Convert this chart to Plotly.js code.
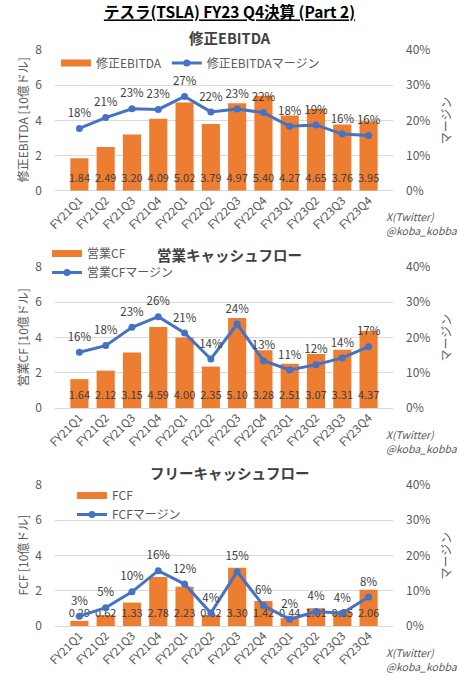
<!DOCTYPE html>
<html><head><meta charset="utf-8">
<script src="https://cdn.plot.ly/plotly-3.0.1.min.js"></script>
<style>html,body{margin:0;padding:0;background:#fff}#c{width:459px;height:680px}</style>
</head><body><div id="c"></div>
<script>
const cats = ['FY21Q1','FY21Q2','FY21Q3','FY21Q4','FY22Q1','FY22Q2','FY22Q3','FY22Q4','FY23Q1','FY23Q2','FY23Q3','FY23Q4'];
const ebitda = [1.84,2.49,3.20,4.09,5.02,3.79,4.97,5.40,4.27,4.65,3.76,3.95];
const ebitdaMargin = [17.7,20.8,23.3,23.1,26.8,22.4,23.2,22.2,18.3,18.7,16.1,15.7];
const ocf = [1.64,2.12,3.15,4.59,4.00,2.35,5.10,3.28,2.51,3.07,3.31,4.37];
const ocfMargin = [15.8,17.7,22.9,25.9,21.3,13.9,23.8,13.4,10.8,12.3,14.2,17.4];
const fcf = [0.29,0.62,1.33,2.78,2.23,0.62,3.30,1.42,0.44,1.01,0.85,2.06];
const fcfMargin = [2.8,5.2,9.7,15.7,11.9,3.7,15.4,5.8,1.9,4.1,3.6,8.2];

const FONT = 'Noto Sans CJK JP, Noto Sans, sans-serif';
const ORANGE = '#ED7D31', BLUE = '#4472C4', GRAY = '#595959', DARK = '#404040', GRID = '#D9D9D9';
const W = 459, H = 680;
const XL = 55, XR = 393;
const panels = [
  {top:50, bot:190.7, vals:ebitda, marg:ebitdaMargin, barName:'修正EBITDA', lineName:'修正EBITDAマージン', title:'修正EBITDA', titleY:37, ytitle:'修正EBITDA [10億ドル]'},
  {top:267, bot:408, vals:ocf, marg:ocfMargin, barName:'営業CF', lineName:'営業CFマージン', title:'営業キャッシュフロー', titleY:254, ytitle:'営業CF [10億ドル]'},
  {top:485, bot:626, vals:fcf, marg:fcfMargin, barName:'FCF', lineName:'FCFマージン', title:'フリーキャッシュフロー', titleY:472, ytitle:'FCF [10億ドル]'}
];
const legendPos = [
  {x:56/W, y:1-63/H, orientation:'h'},
  {x:47/W, y:1-263/H, orientation:'v'},
  {x:72/W, y:1-505/H, orientation:'v'}
];

const data = [];
const layout = {
  width:W, height:H, margin:{l:0,r:0,t:0,b:0},
  paper_bgcolor:'#fff', plot_bgcolor:'#fff',
  font:{family:FONT, color:GRAY, size:12},
  bargap:0.31,
  title:{text:'テスラ(TSLA) FY23 Q4決算 (Part 2)', x:0.5, xanchor:'center', y:1-13/H, yanchor:'middle',
         font:{family:FONT, size:15.5, color:'#000', weight:'bold', lineposition:'under'}},
  annotations:[]
};

panels.forEach((p,i)=>{
  const n = i+1;
  const xa = n===1?'x':'x'+n;
  const yl = 'y'+(2*n-1===1?'':(2*n-1));
  const yr = 'y'+(2*n);
  const lg = n===1?'legend':'legend'+n;
  const dom = [1-p.bot/H, 1-p.top/H];
  data.push({type:'bar', x:cats, y:p.vals, name:p.barName, marker:{color:ORANGE}, xaxis:xa, yaxis:yl, showlegend:false, hoverinfo:'skip'});
  // legend entry for the bar series (wide swatch like the original)
  data.push({type:'scatter', mode:'lines', x:[cats[0]], y:[null], name:p.barName, line:{color:ORANGE, width:7},
             xaxis:xa, yaxis:yl, legend:lg, hoverinfo:'skip'});
  data.push({type:'scatter', mode:'text', x:cats, y:cats.map(()=>0.64), text:p.vals.map(v=>v.toFixed(2)),
             textfont:{family:FONT, size:11, color:DARK}, textposition:'middle center', showlegend:false, xaxis:xa, yaxis:yl, hoverinfo:'skip'});
  data.push({type:'scatter', mode:'lines+markers', x:cats, y:p.marg, name:p.lineName,
             line:{color:BLUE, width:3}, marker:{color:BLUE, size:7}, xaxis:xa, yaxis:yr, legend:lg, hoverinfo:'skip'});
  data.push({type:'scatter', mode:'markers+text', x:cats, y:p.marg, text:p.marg.map(v=>Math.round(v)+'%'),
             marker:{size:12, color:'rgba(0,0,0,0)'},
             textposition:'top center', textfont:{family:FONT, size:11.5, color:DARK}, showlegend:false, xaxis:xa, yaxis:yr, hoverinfo:'skip'});

  const xkey = n===1?'xaxis':'xaxis'+n;
  const ylkey = 'yaxis'+(2*n-1===1?'':(2*n-1));
  const yrkey = 'yaxis'+(2*n);
  layout[xkey] = {domain:[XL/W, XR/W], anchor:yl, type:'category', tickangle:-45, showgrid:false, showline:false, zeroline:false,
                  tickfont:{family:FONT, size:11.5, color:GRAY}, ticks:'', fixedrange:true};
  layout[ylkey] = {domain:dom, anchor:xa, range:[0,8], dtick:2, gridcolor:GRID, gridwidth:1, zeroline:true, zerolinecolor:GRID, zerolinewidth:1,
                   showline:false, ticks:'', ticklabelstandoff:12, tickfont:{family:FONT, size:12, color:GRAY}};
  layout[yrkey] = {domain:dom, anchor:xa, overlaying:yl, side:'right', range:[0,40], dtick:10, ticksuffix:'%', showgrid:false, zeroline:false,
                   showline:false, ticks:'', ticklabelstandoff:12, tickfont:{family:FONT, size:12, color:GRAY}};
  const lp = legendPos[i];
  layout[lg] = {x:lp.x, y:lp.y, xanchor:'left', yanchor:'middle', orientation:lp.orientation, bgcolor:'rgba(0,0,0,0)',
                font:{family:FONT, size:12, color:GRAY}, tracegroupgap:0, itemwidth:30};
  const mid = 1-((p.top+p.bot)/2)/H;
  layout.annotations.push({xref:'paper', yref:'paper', x:0.5, y:1-p.titleY/H, text:'<b>'+p.title+'</b>', showarrow:false,
                           font:{family:FONT, size:14.5, color:DARK}, xanchor:'center', yanchor:'middle'});
  layout.annotations.push({xref:'paper', yref:'paper', x:22/W, y:mid, text:p.ytitle, textangle:-90, showarrow:false,
                           font:{family:FONT, size:12, color:GRAY}, xanchor:'center', yanchor:'middle'});
  layout.annotations.push({xref:'paper', yref:'paper', x:445/W, y:mid, text:'マージン', textangle:-90, showarrow:false,
                           font:{family:FONT, size:12, color:GRAY}, xanchor:'center', yanchor:'middle'});
  layout.annotations.push({xref:'paper', yref:'paper', x:384/W, y:1-(p.bot+33)/H, text:'<i>X(Twitter)<br>@koba_kobba</i>', showarrow:false,
                           align:'left', font:{family:FONT, size:10.5, color:GRAY}, xanchor:'left', yanchor:'middle'});
});

Plotly.newPlot('c', data, layout, {staticPlot:true});
</script></body></html>
